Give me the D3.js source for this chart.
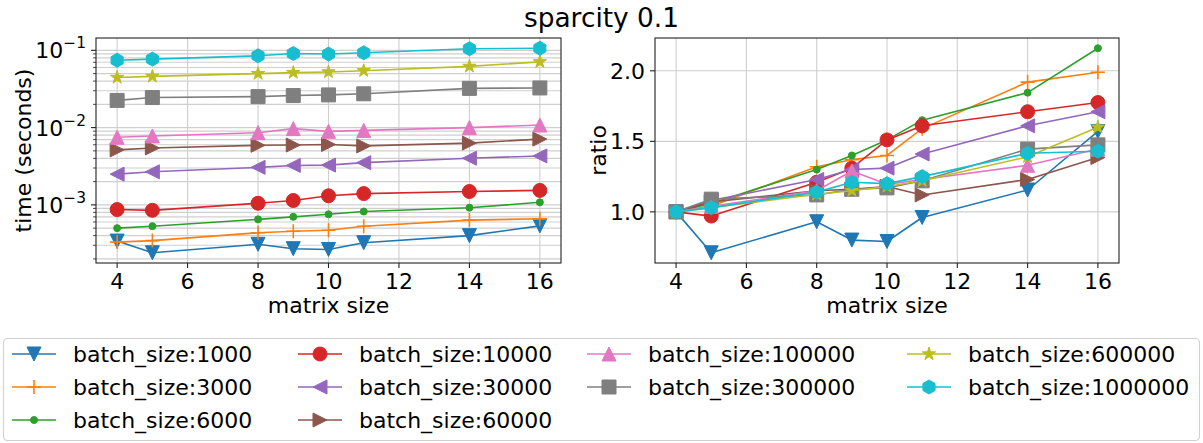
<!DOCTYPE html>
<html>
<head>
<meta charset="utf-8">
<script src="https://cdn.jsdelivr.net/npm/d3@7"></script>
<style>
  body { margin: 0; background: #fff; }
  svg text { font-family: "DejaVu Sans", sans-serif; fill: #000; }
</style>
</head>
<body>
<svg id="chart" width="1203" height="443"></svg>
<script>
// Matrix sizes on the x axis
const matrixSizes = [4, 5, 8, 9, 10, 11, 14, 16];

// Batch sizes, one series each
const batchSizes = [1000, 3000, 6000, 10000, 30000, 60000, 100000, 300000, 600000, 1000000];

// Time in seconds per batch size
const time1000    = [3.4e-4, 2.4e-4, 3.09e-4, 2.71e-4, 2.65e-4, 3.24e-4, 4.0e-4, 5.35e-4];
const time3000    = [3.3e-4, 3.45e-4, 4.36e-4, 4.55e-4, 4.7e-4, 5.3e-4, 6.35e-4, 6.6e-4];
const time6000    = [5.0e-4, 5.3e-4, 6.5e-4, 7.0e-4, 7.55e-4, 8.2e-4, 9.2e-4, 1.08e-3];
const time10000   = [8.7e-4, 8.5e-4, 1.05e-3, 1.14e-3, 1.31e-3, 1.40e-3, 1.49e-3, 1.54e-3];
const time30000   = [2.5e-3, 2.68e-3, 3.06e-3, 3.24e-3, 3.27e-3, 3.52e-3, 4.02e-3, 4.3e-3];
const time60000   = [5.15e-3, 5.45e-3, 5.9e-3, 5.95e-3, 6.05e-3, 5.8e-3, 6.3e-3, 7.1e-3];
const time100000  = [7.5e-3, 7.8e-3, 8.6e-3, 9.7e-3, 8.95e-3, 9.2e-3, 1.0e-2, 1.08e-2];
const time300000  = [2.25e-2, 2.45e-2, 2.52e-2, 2.6e-2, 2.65e-2, 2.74e-2, 3.22e-2, 3.26e-2];
const time600000  = [4.45e-2, 4.6e-2, 5.0e-2, 5.15e-2, 5.25e-2, 5.45e-2, 6.2e-2, 7.1e-2];
const time1000000 = [7.45e-2, 7.7e-2, 8.5e-2, 9.1e-2, 8.95e-2, 9.3e-2, 1.05e-1, 1.065e-1];

// Time ratio relative to matrix size 4
const ratio1000    = [1, 0.71, 0.93, 0.80, 0.79, 0.96, 1.155, 1.57];
const ratio3000    = [1, 1.04, 1.32, 1.37, 1.40, 1.59, 1.92, 1.99];
const ratio6000    = [1, 1.06, 1.30, 1.40, 1.51, 1.65, 1.845, 2.16];
const ratio10000   = [1, 0.97, 1.21, 1.31, 1.51, 1.61, 1.71, 1.775];
const ratio30000   = [1, 1.08, 1.23, 1.30, 1.31, 1.41, 1.61, 1.71];
const ratio60000   = [1, 1.07, 1.15, 1.16, 1.18, 1.12, 1.23, 1.385];
const ratio100000  = [1, 1.04, 1.15, 1.29, 1.195, 1.23, 1.33, 1.445];
const ratio300000  = [1, 1.09, 1.12, 1.16, 1.17, 1.22, 1.445, 1.475];
const ratio600000  = [1, 1.03, 1.125, 1.15, 1.18, 1.22, 1.39, 1.60];
const ratio1000000 = [1, 1.03, 1.14, 1.21, 1.20, 1.25, 1.415, 1.43];

const timeSeries  = [time1000, time3000, time6000, time10000, time30000, time60000, time100000, time300000, time600000, time1000000];
const ratioSeries = [ratio1000, ratio3000, ratio6000, ratio10000, ratio30000, ratio60000, ratio100000, ratio300000, ratio600000, ratio1000000];

const xTicks = [4, 6, 8, 10, 12, 14, 16];
const ratioTicks = [1.0, 1.5, 2.0];
const logTickExponents = [-3, -2, -1];

const colors = ["#1f77b4", "#ff7f0e", "#2ca02c", "#d62728", "#9467bd", "#8c564b", "#e377c2", "#7f7f7f", "#bcbd22", "#17becf"];
const markers = ["v", "+", ".", "o", "<", ">", "^", "s", "*", "h"];

const svg = d3.select("#chart");
const FS = 22;          // base font size
const MS = 14;          // marker size
const LW = 1.6;         // line width
const GRID = "#cfcfcf";

function markerPath(type, s) {
  const h = s / 2;
  switch (type) {
    case "v": return `M0,${h}L${-h},${-h}L${h},${-h}Z`;
    case "^": return `M0,${-h}L${-h},${h}L${h},${h}Z`;
    case "<": return `M${-h},0L${h},${-h}L${h},${h}Z`;
    case ">": return `M${h},0L${-h},${-h}L${-h},${h}Z`;
    case "s": return `M${-h},${-h}H${h}V${h}H${-h}Z`;
    case "+": return `M${-h},0H${h}M0,${-h}V${h}`;
    case "o": return d3.symbol(d3.symbolCircle, Math.PI * h * h)();
    case ".": return d3.symbol(d3.symbolCircle, Math.PI * (h / 2) * (h / 2))();
    case "*": {
      const pts = [];
      for (let i = 0; i < 10; i++) {
        const r = i % 2 === 0 ? h : h * 0.381966;
        const a = -Math.PI / 2 + i * Math.PI / 5;
        pts.push([r * Math.cos(a), r * Math.sin(a)]);
      }
      return "M" + pts.map(p => p.join(",")).join("L") + "Z";
    }
    case "h": {
      const pts = [];
      for (let i = 0; i < 6; i++) {
        const a = -Math.PI / 2 + i * Math.PI / 3;
        pts.push([h * Math.cos(a), h * Math.sin(a)]);
      }
      return "M" + pts.map(p => p.join(",")).join("L") + "Z";
    }
  }
}

function drawMarker(g, type, color, x, y) {
  const p = g.append("path")
    .attr("d", markerPath(type, MS))
    .attr("transform", `translate(${x},${y})`);
  if (type === "+") {
    p.attr("fill", "none").attr("stroke", color).attr("stroke-width", LW);
  } else {
    p.attr("fill", color).attr("stroke", color).attr("stroke-width", 1);
  }
}

// Shared plot frame geometry
const plotTop = 38, plotBottom = 263;

function margins(lo, hi, log) {
  if (log) {
    const a = Math.log10(lo), b = Math.log10(hi), m = (b - a) * 0.05;
    return [Math.pow(10, a - m), Math.pow(10, b + m)];
  }
  const m = (hi - lo) * 0.05;
  return [lo - m, hi + m];
}

function drawPanel(opts) {
  const { left, right, series, log, yLabel, yLabelX } = opts;
  const g = svg.append("g");
  const x = d3.scaleLinear()
    .domain(margins(d3.min(matrixSizes), d3.max(matrixSizes), false))
    .range([left, right]);
  const all = series.flat();
  const y = (log ? d3.scaleLog() : d3.scaleLinear())
    .domain(margins(d3.min(all), d3.max(all), log))
    .range([plotBottom, plotTop]);

  // grid
  const grid = g.append("g");
  xTicks.forEach(t => grid.append("line")
    .attr("x1", x(t)).attr("x2", x(t)).attr("y1", plotTop).attr("y2", plotBottom)
    .attr("stroke", GRID).attr("stroke-width", 1.1));
  let yMajor, yMinor = [];
  if (log) {
    yMajor = logTickExponents.map(e => Math.pow(10, e));
    const [d0, d1] = y.domain();
    for (let e = -5; e <= 0; e++) {
      for (let k = 2; k <= 9; k++) {
        const v = k * Math.pow(10, e);
        if (v >= d0 && v <= d1) yMinor.push(v);
      }
    }
  } else {
    yMajor = ratioTicks;
  }
  yMajor.concat(yMinor).forEach(t => grid.append("line")
    .attr("x1", left).attr("x2", right).attr("y1", y(t)).attr("y2", y(t))
    .attr("stroke", GRID).attr("stroke-width", 1.1));

  // series
  const line = d3.line().x((d, i) => x(matrixSizes[i])).y(d => y(d));
  series.forEach((vals, si) => {
    const sg = g.append("g");
    sg.append("path").datum(vals).attr("d", line)
      .attr("fill", "none").attr("stroke", colors[si]).attr("stroke-width", LW)
      .attr("stroke-linejoin", "round");
    vals.forEach((v, i) => drawMarker(sg, markers[si], colors[si], x(matrixSizes[i]), y(v)));
  });

  // spines
  g.append("rect").attr("x", left).attr("y", plotTop)
    .attr("width", right - left).attr("height", plotBottom - plotTop)
    .attr("fill", "none").attr("stroke", "#222").attr("stroke-width", 1.1);

  // x axis ticks and labels
  const xa = g.append("g");
  xTicks.forEach(t => {
    xa.append("line").attr("x1", x(t)).attr("x2", x(t)).attr("y1", plotBottom).attr("y2", plotBottom + 5)
      .attr("stroke", "#222").attr("stroke-width", 1.1);
    xa.append("text").attr("x", x(t)).attr("y", plotBottom + 26).attr("text-anchor", "middle")
      .attr("font-size", FS).text(t);
  });
  g.append("text").attr("x", (left + right) / 2).attr("y", plotBottom + 50)
    .attr("text-anchor", "middle").attr("font-size", FS).text("matrix size");

  // y axis ticks and labels
  const ya = g.append("g");
  yMajor.forEach(t => {
    ya.append("line").attr("x1", left - 5).attr("x2", left).attr("y1", y(t)).attr("y2", y(t))
      .attr("stroke", "#222").attr("stroke-width", 1.1);
    if (log) {
      const tx = ya.append("text").attr("x", left - 10).attr("y", y(t) + 8)
        .attr("text-anchor", "end").attr("font-size", FS);
      tx.append("tspan").text("10");
      tx.append("tspan").attr("font-size", FS * 0.7).attr("dy", -10)
        .text("\u2212" + String(Math.abs(Math.log10(t))));
    } else {
      ya.append("text").attr("x", left - 10).attr("y", y(t) + 8)
        .attr("text-anchor", "end").attr("font-size", FS).text(d3.format(".1f")(t));
    }
  });
  yMinor.forEach(t => ya.append("line").attr("x1", left - 3).attr("x2", left)
    .attr("y1", y(t)).attr("y2", y(t)).attr("stroke", "#222").attr("stroke-width", 0.8));
  g.append("text")
    .attr("transform", `translate(${yLabelX},${(plotTop + plotBottom) / 2}) rotate(-90)`)
    .attr("text-anchor", "middle").attr("font-size", FS).text(yLabel);
}

drawPanel({ left: 96, right: 561, series: timeSeries, log: true, yLabel: "time (seconds)", yLabelX: 31 });
drawPanel({ left: 655, right: 1119, series: ratioSeries, log: false, yLabel: "ratio", yLabelX: 606 });

// title
svg.append("text").attr("x", 601.5).attr("y", 27).attr("text-anchor", "middle")
  .attr("font-size", FS * 1.2).text("sparcity 0.1");

// legend: four columns holding 3, 3, 2 and 2 entries
const legend = svg.append("g");
legend.append("rect").attr("x", 3.5).attr("y", 338.5).attr("width", 1196).attr("height", 102)
  .attr("rx", 4).attr("fill", "#fff").attr("stroke", "#d0d0d0").attr("stroke-width", 1.1);
const colX = [12, 298, 587, 907];
const rowY = [354, 387, 420];
const colStart = [0, 3, 6, 8];
batchSizes.forEach((b, i) => {
  let col = 0;
  for (let c = 0; c < colStart.length; c++) if (i >= colStart[c]) col = c;
  const row = i - colStart[col];
  const hx = colX[col], hy = rowY[row];
  legend.append("line").attr("x1", hx).attr("x2", hx + 44).attr("y1", hy).attr("y2", hy)
    .attr("stroke", colors[i]).attr("stroke-width", LW);
  drawMarker(legend, markers[i], colors[i], hx + 22, hy);
  legend.append("text").attr("x", hx + 61).attr("y", hy + 8).attr("font-size", FS)
    .text("batch_size:" + b);
});
</script>
</body>
</html>
